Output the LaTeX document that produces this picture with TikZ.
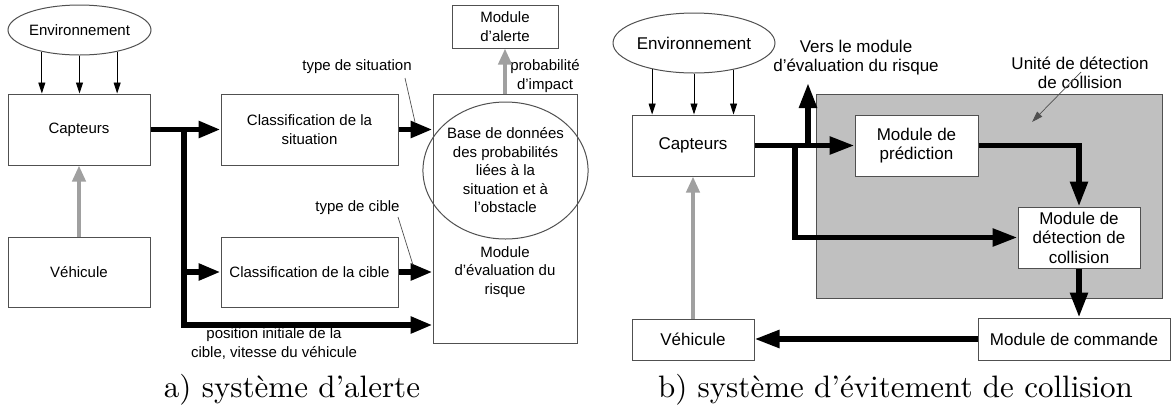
\documentclass[tikz,border=0pt]{standalone}
\usepackage{fontspec}
\setsansfont{Liberation Sans}
\usetikzlibrary{arrows.meta,shapes.geometric,calc}
\definecolor{bord}{HTML}{505050}
\definecolor{garrow}{HTML}{A0A0A0}
\definecolor{unitfill}{HTML}{C0C0C0}
\begin{document}
\begin{tikzpicture}[x=1pt,y=-1pt,
  lt/.style={font=\sffamily\fontsize{15}{18.5}\selectfont, align=center, inner sep=0pt},
  rt/.style={font=\sffamily\fontsize{17}{19.5}\selectfont, align=center, inner sep=0pt},
  box/.style={draw=bord, line width=1pt, fill=white, inner sep=0pt, align=center},
  ell/.style={ellipse, draw=bord, line width=1pt, inner sep=0pt, align=center},
  thinarrow/.style={line width=0.9pt, -{Triangle[length=11pt,width=7pt]}},
  boldarrow/.style={line width=5.5pt, -{Triangle[length=22pt,width=16pt]}},
  boldarrowR/.style={line width=5.5pt, -{Triangle[length=25pt,width=17pt]}},
  boldline/.style={line width=5.5pt},
  grayarrow/.style={draw=garrow, line width=4.5pt, -{Triangle[length=16pt,width=13pt]}},
  pointer/.style={line width=0.7pt, draw=bord},
  pointerarrow/.style={line width=0.7pt, draw=bord, -{Triangle[length=11pt,width=7pt]}},
  captionstyle/.style={font=\fontsize{10}{12}\selectfont, scale=3.1, inner sep=0pt, anchor=base}
]
\useasboundingbox (0,0) rectangle (1175,408);

% ================= left: a) =================
\node[ell, lt, minimum width=143pt, minimum height=50pt] (envL) at (79.5,30) {Environnement};
\node[box, lt, minimum width=142pt, minimum height=71pt] (capL) at (79,129.5) {Capteurs};
\node[box, lt, minimum width=142pt, minimum height=70pt] (vehL) at (79,272) {Véhicule};
\node[box, lt, minimum width=177pt, minimum height=71pt] (csit) at (309.5,129.5) {Classification de la\\situation};
\node[box, lt, minimum width=177pt, minimum height=70pt] (ccib) at (309.5,272) {Classification de la cible};
\node[box, minimum width=144pt, minimum height=249pt] (eval) at (505,218.5) {};
\node[ell, lt, minimum width=129pt, minimum height=137pt] (db) at (505.5,170.5) {Base de données\\des probabilités\\liées à la\\situation et à\\l’obstacle};
\node[lt] (evaltxt) at (505,272) {Module\\d’évaluation du\\risque};
\node[box, lt, minimum width=106pt, minimum height=43pt] (alert) at (505,26.5) {Module\\d’alerte};

\node[lt] (proba) at (545,76) {probabilité\\d’impact};
\node[lt] (tsit) at (357,67) {type de situation};
\node[lt] (tcib) at (357.5,208) {type de cible};
\node[lt] (posinit) at (274,343.5) {position initiale de la\\cible, vitesse du véhicule};

\coordinate (brL) at (184,129.5);
\coordinate (botL) at (184,325);
\coordinate (tsitA) at (405,78);
\coordinate (tsitB) at (415,122);
\coordinate (tcibA) at (398,217);
\coordinate (tcibB) at (413,265);

\foreach \a in {210,270,330}
  \draw[thinarrow] (envL.\a) -- (envL.\a |- capL.north);
\draw[boldarrow] (capL.east) -- (csit.west);
\draw[boldarrow, line join=miter] (brL) |- (ccib.west);
\draw[boldarrow, line join=miter] (brL) -- (botL) -- (botL -| eval.west);
\draw[boldarrow] (csit.east) -- (csit.east -| eval.west);
\draw[boldarrow] (ccib.east) -- (ccib.east -| eval.west);
\draw[grayarrow] (vehL.north) -- (capL.south);
\draw[grayarrow] (eval.north) -- (alert.south);
\draw[pointer] (tsitA) -- (tsitB);
\draw[pointer] (tcibA) -- (tcibB);

\node[captionstyle] (capa) at (292,397) {a) système d’alerte};

% ================= right: b) =================
\node[draw=bord, line width=1pt, fill=unitfill, minimum width=346pt, minimum height=204pt, inner sep=0pt] (unit) at (989,196) {};
\node[ell, rt, minimum width=162pt, minimum height=60pt] (envR) at (694,43) {Environnement};
\node[box, rt, minimum width=122pt, minimum height=61pt] (capR) at (693,145.5) {Capteurs};
\node[box, rt, minimum width=123pt, minimum height=61pt] (pred) at (916.5,145.5) {Module de\\prédiction};
\node[box, rt, minimum width=122pt, minimum height=61pt] (det) at (1079,237.5) {Module de\\détection de\\collision};
\node[box, rt, minimum width=192pt, minimum height=42pt] (cmd) at (1074,339) {Module de commande};
\node[box, rt, minimum width=122pt, minimum height=41pt] (vehR) at (693,339.5) {Véhicule};

\node[rt] (vers) at (856,57.5) {Vers le module\\d’évaluation du risque};
\node[rt] (unitlbl) at (1080,73) {Unité de détection\\de collision};

\coordinate (upR) at (808,83);
\coordinate (brR) at (795,145.5);
\coordinate (unitA) at (1081,72);
\coordinate (unitB) at (1032,122);

\foreach \a in {212,270,326}
  \draw[thinarrow] (envR.\a) -- (envR.\a |- capR.north);
\draw[boldarrowR] (capR.east) -- (pred.west);
\draw[boldarrowR] (capR.east -| upR) -- (upR);
\draw[boldarrowR, line join=miter] (brR) |- (det.west);
\draw[boldarrowR, line join=miter] (pred.east) -| (det.north);
\draw[boldarrowR] (det.south) -- (det.south |- cmd.north);
\draw[boldarrowR] (cmd.west) -- (cmd.west -| vehR.east);
\draw[grayarrow] (vehR.north) -- (capR.south);
\draw[pointerarrow] (unitA) -- (unitB);

\node[captionstyle] (capb) at (895.5,397) {b) système d’évitement de collision};
\end{tikzpicture}
\end{document}
